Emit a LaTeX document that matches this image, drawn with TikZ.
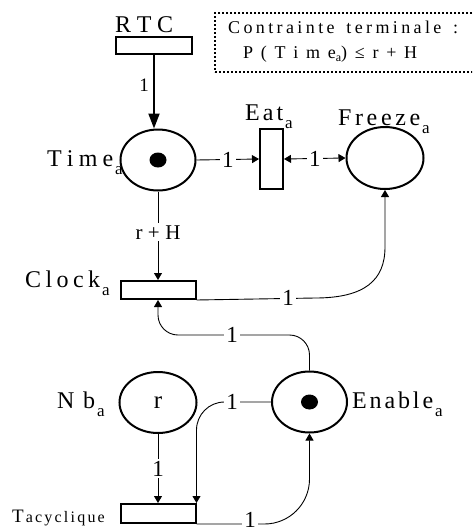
\documentclass[tikz,border=0pt]{standalone}
\usepackage{fontspec}
\setmainfont{Liberation Serif}
\usetikzlibrary{shapes.geometric,arrows.meta}
\newcommand\lowa[1]{\hspace{2pt}\raisebox{-8pt}{\fontsize{17}{17}\selectfont #1}}
\newcommand\lowb[1]{\raisebox{-3pt}{\fontsize{12}{12}\selectfont #1}}
\newcommand\spr[2]{\makebox[#1][s]{#2}}
\begin{document}
\begin{tikzpicture}[x=1pt,y=-1pt,
  place/.style={draw, ellipse, line width=2pt, minimum width=75pt, minimum height=61pt, inner sep=0pt},
  trans/.style={draw, rectangle, line width=2pt, inner sep=0pt},
  tok/.style={ellipse, fill=black, minimum width=17pt, minimum height=15pt, inner sep=0pt},
  arc/.style={line width=0.9pt, -{Triangle[length=7pt,width=8pt]}},
  arcboth/.style={line width=0.9pt, {Triangle[length=7pt,width=8pt]}-{Triangle[length=7pt,width=8pt]}},
  thickarc/.style={line width=2pt, -{Triangle[length=15pt,width=11pt]}},
  lbl/.style={fill=white, inner sep=2pt, font=\fontsize{23}{23}\selectfont},
  lname/.style={anchor=base west, inner sep=0pt, font=\fontsize{24}{24}\selectfont},
  cbox/.style={draw, line width=1.3pt, dash pattern=on 2pt off 2pt, inner sep=0pt}
]
\useasboundingbox (0,0) rectangle (472,528);
\clip (0,0) rectangle (472,528);

% constraint box
\node[cbox, minimum width=265pt, minimum height=59pt] (Cbox) at (347.5,42.5) {};
\node[anchor=base west, inner sep=0pt, font=\fontsize{18}{18}\selectfont] (C1) at (228,33)
  {\spr{230pt}{C\hfil o\hfil n\hfil t\hfil r\hfil a\hfil i\hfil n\hfil t\hfil e\hfil\hspace{5pt}\hfil t\hfil e\hfil r\hfil m\hfil i\hfil n\hfil a\hfil l\hfil e\hfil\hspace{5pt}\hfil :}};
\node[anchor=base west, inner sep=0pt, font=\fontsize{18}{18}\selectfont] (C2) at (243,58)
  {\spr{174pt}{P\hfil(\hfil T\hfil i\hfil m\hfil e\lowb{a})\hfil ≤\hfil r\hfil +\hfil H}};

% transitions and places
\node[trans, minimum width=76pt, minimum height=17pt] (RTC) at (154,45.5) {};
\node[place] (Time) at (158,160) {};
\node[tok] (TimeTok) at (Time.center) {};
\node[trans, minimum width=23pt, minimum height=60pt] (Eat) at (271.5,159) {};
\node[place, minimum width=77pt, minimum height=62pt] (Freeze) at (385,158) {};
\node[trans, minimum width=75pt, minimum height=18pt] (Clock) at (158,290) {};
\node[place, minimum width=77pt, font=\fontsize{25}{25}\selectfont] (Nb) at (158,402.5) {r};
\node[place] (Enable) at (309.5,402) {};
\node[tok] (EnableTok) at (Enable.center) {};
\node[trans, minimum width=75pt, minimum height=19pt] (Tacyc) at (158,513.5) {};

% names
\node[lname] (RTClbl) at (115,32) {\spr{58pt}{R\hfil T\hfil C}};
\node[lname] (TimeLbl) at (47,166) {\spr{66pt}{T\hfil i\hfil m\hfil e}\lowa{a}};
\node[lname] (EatLbl) at (245,120) {\spr{38pt}{E\hfil a\hfil t}\lowa{a}};
\node[lname] (FreezeLbl) at (338,125) {\spr{82pt}{F\hfil r\hfil e\hfil e\hfil z\hfil e}\lowa{a}};
\node[lname] (ClockLbl) at (25,287) {\spr{75pt}{C\hfil l\hfil o\hfil c\hfil k}\lowa{a}};
\node[lname] (NbLbl) at (57,408) {\spr{38pt}{N\hfil b}\lowa{a}};
\node[lname] (EnableLbl) at (352,408) {\spr{81pt}{E\hfil n\hfil a\hfil b\hfil l\hfil e}\lowa{a}};
\node[anchor=base west, inner sep=0pt, font=\fontsize{19}{19}\selectfont] (TacLbl) at (12,522)
  {T\hspace{2pt}{\fontsize{16}{16}\selectfont\spr{79pt}{a\hfil c\hfil y\hfil c\hfil l\hfil i\hfil q\hfil u\hfil e}}};

% arcs
\draw[thickarc] (RTC.south) -- (RTC.south |- Time.north);
\node[inner sep=0pt, font=\fontsize{19}{19}\selectfont] (lrtc) at (144,85.5) {1};

\draw[arc] (Time.east) -- node[lbl]{1} (Eat.west);
\draw[arcboth] (Eat.east) -- node[lbl]{1} (Freeze.west);
\draw[arc] (Time.south) -- node[lbl, pos=0.46, font=\fontsize{21}{21}\selectfont]{\spr{45pt}{r\hfil +\hfil H}} (Clock.north);

\coordinate (cf1) at (315,298);
\coordinate (cf2) at (385,247);
\draw[arc] (Clock.south east) -- (cf1) .. controls (365,298) and (385,280) .. (cf2) -- (Freeze.south);
\node[lbl] (lcf) at (288,298) {1};

\coordinate (ec) at (158,335);
\draw[arc, rounded corners=20pt] (Enable.north) |- (ec) -- (Clock.south);
\node[lbl] (lec) at (232,335) {1};

\draw[arc] (Nb.south) -- node[lbl]{1} (Tacyc.north);

\draw[arc, rounded corners=28pt] (Enable.west) -| (Tacyc.north east);
\node[lbl] (let) at (232,402) {1};

\draw[arc, rounded corners=45pt] (Tacyc.south east) -| (Enable.south);
\node[lbl] (lte) at (250,520) {1};
\end{tikzpicture}
\end{document}
